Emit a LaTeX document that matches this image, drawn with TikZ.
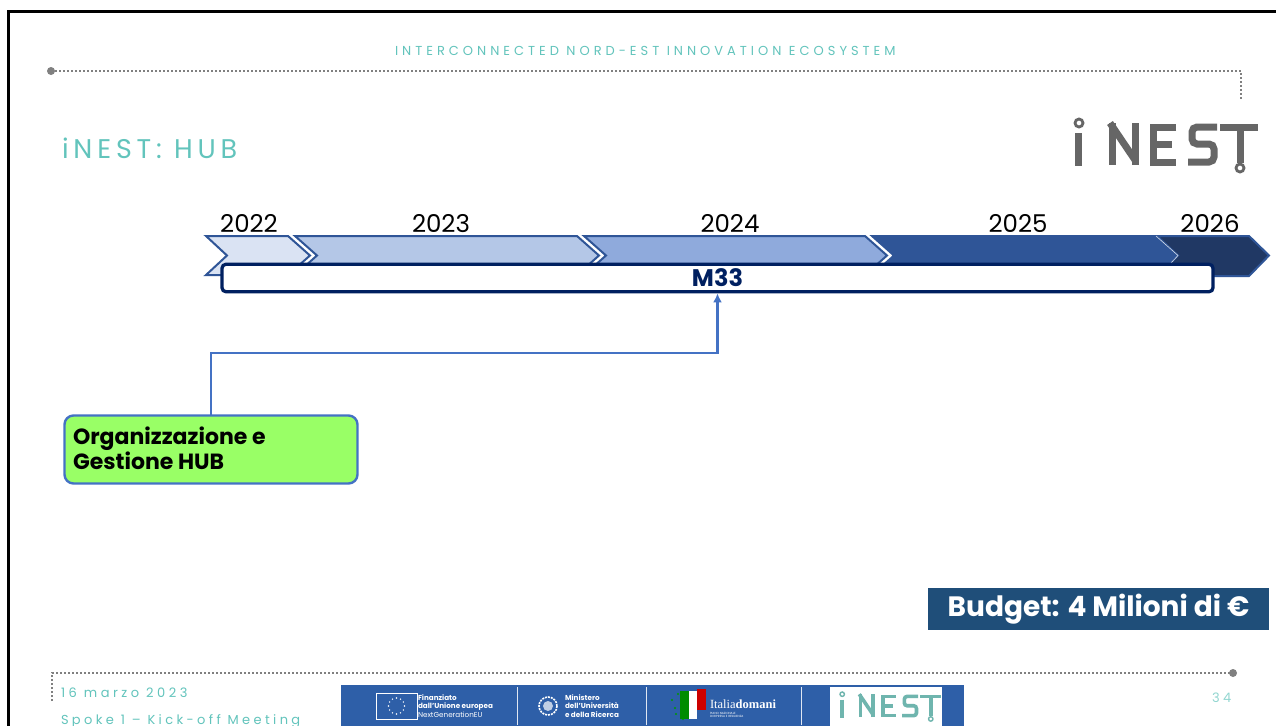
\documentclass[tikz,border=0pt]{standalone}
\usepackage{fontspec}
\setmainfont{Poppins}
\newfontfamily\spacedA[LetterSpace=30.7]{Poppins}
\newfontfamily\spacedB[LetterSpace=18]{Poppins}
\newfontfamily\spacedC[LetterSpace=27]{Poppins}
\newfontfamily\spacedD[LetterSpace=26]{Poppins}
\newfontfamily\serifban{Liberation Serif}
\usetikzlibrary{arrows.meta}
\definecolor{teal1}{HTML}{62C4BC}
\definecolor{dotgrey}{HTML}{808080}
\definecolor{edgeblue}{HTML}{2F5597}
\definecolor{linkblue}{HTML}{4472C4}
\definecolor{hubgreen}{HTML}{99FF66}
\definecolor{navy}{HTML}{002060}
\definecolor{c1}{HTML}{DAE3F3}
\definecolor{c2}{HTML}{B4C7E7}
\definecolor{c3}{HTML}{8FAADC}
\definecolor{c4}{HTML}{2F5597}
\definecolor{c5}{HTML}{203864}
\definecolor{budgetblue}{HTML}{1F4E79}
\definecolor{bannerblue}{HTML}{2E5FA8}
\definecolor{logogrey}{HTML}{666666}
\definecolor{logoteal}{HTML}{6FB5AE}
\tikzset{
  txt/.style={inner sep=0pt,outer sep=0pt},
  yearlabel/.style={txt,anchor=base,font=\fontsize{24.5}{24.5}\selectfont,text=black},
  tealtxt/.style={txt,text=teal1,anchor=base west},
  banner/.style={txt,text=white,anchor=west,align=left,font=\fontsize{7.2}{8.2}\selectfont\bfseries},
  dots/.style={dotgrey,line width=1.7pt,dash pattern=on 1.7pt off 2.3pt},
  chev/.style={draw=edgeblue,line width=2pt,line join=miter},
  divider/.style={white!85!bannerblue,line width=.8pt},
}
\newcommand{\logoshape}[3]{%
  \begin{scope}[draw=#1,line width=#2,line cap=butt]
    \draw (1078.5,133)--(1078.5,166);
    \draw[line width=.4*#2] (1079,123) circle (4);
    \draw (1112,123)--(1112,165);
    \draw (1110,123)--(1135,160);
    \draw (1135,123)--(1135,165);
    \draw (1176,127)--(1153,127)--(1153,162)--(1176,162);
    \draw (1153,144)--(1172,144);
    \draw[rounded corners=#3] (1217,127)--(1192,127)--(1192,144)--(1214,144)--(1214,162)--(1188,162);
    \draw (1220,127)--(1258,127);
    \draw (1240,127)--(1240,163);
    \draw[line width=.4*#2] (1240,168) circle (4);
  \end{scope}}
\begin{document}
\begin{tikzpicture}[x=1pt,y=-1pt]
\useasboundingbox (0,0) rectangle (1276,725);
\clip (0,0) rectangle (1276,725);
\fill[white] (0,0) rectangle (1276,725);
% frame
\draw[black,line width=3pt] (8.3,727)--(8.3,11.3)--(1278,11.3);
% header
\node[tealtxt,font=\fontsize{13}{13}\selectfont\spacedA] (hdr) at (395,56) {INTERCONNECTED NORD-EST INNOVATION ECOSYSTEM};
\coordinate (topL) at (51,71); \coordinate (topR) at (1241,71); \coordinate (topE) at (1241,100);
\draw[dots] (topL)--(topR)--(topE);
\fill[dotgrey] (topL) circle (4);
\node[tealtxt,font=\fontsize{27}{27}\selectfont\spacedB] (title) at (62,158) {iNEST: HUB};
\logoshape{logogrey}{7pt}{5pt}
% chevrons
\path[fill=c1,chev] (206,236)--(288,236)--(310,255.5)--(288,275)--(206,275)--(227,255.5)--cycle;
\path[fill=c2,chev] (295,236)--(577,236)--(599,255.5)--(577,275)--(295,275)--(317,255.5)--cycle;
\path[fill=c3,chev] (584,236)--(865,236)--(887,255.5)--(865,275)--(584,275)--(606,255.5)--cycle;
\path[fill=c4,chev] (872,236)--(1155,236)--(1177,255.5)--(1155,275)--(872,275)--(894,255.5)--cycle;
\path[fill=c5,draw=c4,line width=2pt] (1157,236)--(1249,236)--(1269,255.5)--(1249,276)--(1157,276)--(1178,255.5)--cycle;
\path[fill=c4] (1150,237)--(1155,237)--(1177,255.5)--(1165,268)--(1150,268)--cycle;
\draw[white!80!c4,line width=.6pt] (1156,236)--(1178,255.5)--(1170,264);
\node[yearlabel] (y22) at (249,232) {2022};
\node[yearlabel] (y23) at (441,232) {2023};
\node[yearlabel] (y24) at (730,232) {2024};
\node[yearlabel] (y25) at (1018,232) {2025};
\node[yearlabel] (y26) at (1210,232) {2026};
% bar
\node[draw=navy,fill=white,line width=3.3pt,rounded corners=4pt,minimum width=991pt,minimum height=27.5pt,inner sep=0pt,text=navy,font=\fontsize{24}{24}\selectfont\bfseries] (m33) at (717.5,278) {M33};
% hub box
\node[draw=linkblue,fill=hubgreen,line width=2.4pt,rounded corners=9pt,minimum width=293pt,minimum height=68pt,inner sep=0pt,outer sep=0pt] (hub) at (211,449.5) {};
\node[txt,anchor=west,align=left,font=\fontsize{22}{25}\selectfont\bfseries,text=black] (hubtxt) at (73,448) {Organizzazione e\\Gestione HUB};
\coordinate (elbow) at (211,353);
\draw[draw=linkblue,line width=2.4pt,-{Latex[length=9pt,width=9pt]}] (hub.north)--(elbow)-|(m33.south);
% budget
\node[fill=budgetblue,text=white,minimum width=341pt,minimum height=42pt,inner sep=0pt,font=\fontsize{28}{28}\selectfont\bfseries] (budget) at (1098.5,609) {Budget: 4 Milioni di €};
% footer
\coordinate (botL) at (52,673); \coordinate (botR) at (1233,673); \coordinate (botE) at (52,701);
\draw[dots] (botE)--(botL)--(botR);
\fill[dotgrey] (botR) circle (4);
\node[tealtxt,font=\fontsize{13}{13}\selectfont\spacedC] (date) at (61,697) {16 marzo 2023};
\node[tealtxt,font=\fontsize{13}{13}\selectfont\spacedD] (spoke) at (61,724) {Spoke 1 – Kick-off Meeting};
\node[tealtxt,font=\fontsize{13}{13}\selectfont\spacedC,text=teal1!70!white] (page) at (1212,702) {34};
% banner
\fill[bannerblue] (341,685) rectangle (964,727);
\draw[white,line width=.6pt] (376,693) rectangle (417,719);
\foreach \a in {0,30,...,330}{\fill[white] (396.5,706)+(\a:8) circle (.8);}
\node[banner] (eu) at (418,706) {Finanziato\\dall'Unione europea\\{\mdseries NextGenerationEU}};
\draw[divider] (517,687)--(517,725);
\draw[white,line width=1.6pt,dash pattern=on 2pt off 1pt] (548,706) circle (9);
\fill[white!70!bannerblue] (548,706) circle (5);
\node[banner] (mi) at (565,706) {Ministero\\dell'Università\\e della Ricerca};
\draw[divider] (646,687)--(646,725);
\foreach \p/\q in {672/700,675/708,678/694,676/714,683/719}{\fill[green!60!black] (\p,\q) circle (1.2);}
\fill[green!55!black] (680,691) rectangle (689,719);
\fill[white] (689,691) rectangle (697,719);
\fill[red!80!black] (697,689) rectangle (706,710);
\node[txt,anchor=west,text=white,font=\fontsize{12.5}{12.5}\selectfont\serifban] (ita) at (710,704) {Italia\textbf{domani}};
\node[txt,anchor=west,text=white,font=\fontsize{3}{3.4}\selectfont,align=left] (pnrr) at (710,715) {PIANO NAZIONALE\\DI RIPRESA E RESILIENZA};
\draw[divider] (801,687)--(801,725);
\fill[white] (830,687) rectangle (942,727);
\begin{scope}[shift={(248.75,626.55)},scale=.55]
\logoshape{logoteal}{3.6pt}{2.75pt}
\end{scope}
\end{tikzpicture}
\end{document}
